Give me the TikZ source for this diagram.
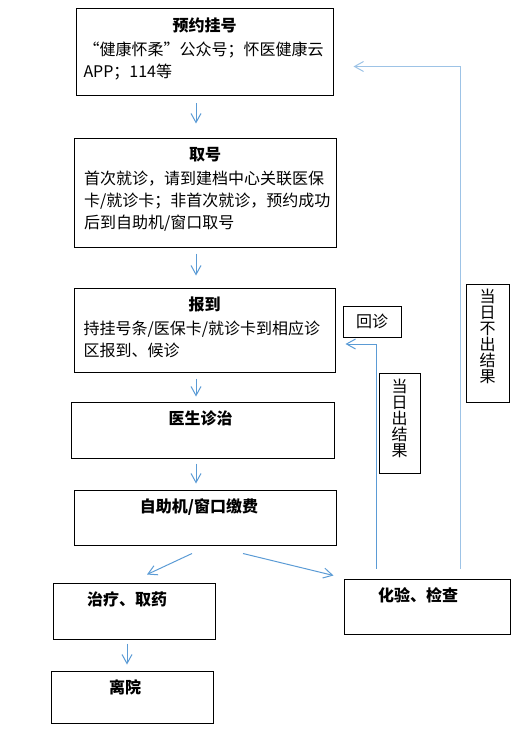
\documentclass[tikz,border=0pt]{standalone}
\usepackage{fontspec}
\setmainfont{Noto Sans CJK SC}
\usepackage{xcolor}
\definecolor{arrowblue}{RGB}{91,155,213}
\definecolor{paleblue}{RGB}{157,195,230}
\usetikzlibrary{arrows.meta,calc}
\newdimen\upx \upx=0.75pt
\newcommand{\steptitle}[1]{{\centering\textbf{#1}\par}\vspace{1.5pt}\raggedright}

\tikzset{
  stepbox/.style={draw=black, line width=0.75pt, inner sep=0pt},
  boxtext/.style={anchor=north, inner sep=0pt, yshift=-9\upx, text width=242\upx,
    font=\fontsize{12pt}{16.5pt}\selectfont},
  coltext/.style={anchor=north, inner sep=0pt, yshift=-5\upx, align=center,
    font=\fontsize{12pt}{12pt}\selectfont},
  flow/.style={arrowblue, line width=0.75pt, -{Straight Barb[length=6.75pt,width=7.5pt]}},
}

\begin{document}
\begin{tikzpicture}[x=0.75pt, y=-0.75pt]
  \useasboundingbox (0,0) rectangle (530,734);

  % main column
  \node[stepbox, minimum width=257\upx, minimum height=87\upx,
    label={[boxtext]north:{\steptitle{预约挂号}
      “健康怀柔”公众号；怀医健康云\\APP；114等}}] (yuyue) at (204.5,52.5) {};
  \node[stepbox, minimum width=262\upx, minimum height=108\upx,
    label={[boxtext]north:{\steptitle{取号}
      首次就诊，请到建档中心关联医保\\卡/就诊卡；非首次就诊，预约成功\\后到自助机/窗口取号}}] (quhao) at (205,193) {};
  \node[stepbox, minimum width=261\upx, minimum height=84\upx,
    label={[boxtext]north:{\steptitle{报到}
      持挂号条/医保卡/就诊卡到相应诊\\区报到、候诊}}] (baodao) at (204.5,330) {};
  \node[stepbox, minimum width=263\upx, minimum height=56\upx,
    label={[boxtext, xshift=-2\upx]north:{\steptitle{医生诊治}}}] (zhenzhi) at (202.5,430) {};
  \node[stepbox, minimum width=262\upx, minimum height=55\upx,
    label={[boxtext, xshift=-6\upx]north:{\steptitle{自助机/窗口缴费}}}] (jiaofei) at (205,517.5) {};

  % lower boxes
  \node[stepbox, minimum width=162\upx, minimum height=56\upx,
    label={[boxtext, xshift=-7\upx]north:{\steptitle{治疗、取药}}}] (zhiliao) at (134,611) {};
  \node[stepbox, minimum width=162\upx, minimum height=52\upx,
    label={[boxtext, xshift=-7\upx]north:{\steptitle{离院}}}] (liyuan) at (132,697) {};
  \node[stepbox, minimum width=166\upx, minimum height=55\upx,
    label={[boxtext, xshift=-9\upx]north:{\steptitle{化验、检查}}}] (huayan) at (427,606.5) {};

  % side labels
  \node[stepbox, minimum width=58\upx, minimum height=31\upx,
    font=\fontsize{12pt}{12pt}\selectfont] (huizhen) at (372,321.5) {回诊};
  \node[stepbox, minimum width=41\upx, minimum height=100\upx,
    label={[coltext, yshift=-1\upx]north:{当\\日\\出\\结\\果}}] (chujieguo) at (399.5,423) {};
  \node[stepbox, minimum width=43\upx, minimum height=118\upx,
    label={[coltext]north:{当\\日\\不\\出\\结\\果}}] (bujieguo) at (487.5,343) {};

  % connectors
  \coordinate (axis) at (196,0);
  \draw[flow] ($(yuyue.south -| axis)+(0,7)$) -- ($(quhao.north -| axis)+(0,-15)$);
  \draw[flow] ($(quhao.south -| axis)+(0,6)$) -- ($(baodao.north -| axis)+(0,-12)$);
  \draw[flow] ($(baodao.south -| axis)+(0,6)$) -- ($(zhenzhi.north -| axis)+(0,-5)$);
  \draw[flow] ($(zhenzhi.south -| axis)+(0,5)$) -- ($(jiaofei.north -| axis)+(0,-6)$);
  \draw[flow] ($(jiaofei.south)+(-13,8)$) -- ($(zhiliao.north)+(13,-8)$);
  \draw[flow] ($(jiaofei.south)+(38,8)$) -- ($(huayan.north west)+(-10,-3)$);
  \draw[flow] ($(zhiliao.south)+(-7,4)$) -- ($(liyuan.north)+(-5,-6)$);

  % return routes
  \coordinate (backa) at (376,344);
  \draw[flow] ($(huayan.north -| backa)+(0,-10)$) -- (backa) -- ($(baodao.east |- backa)+(10,0)$);
  \coordinate (backb) at (460,66.5);
  \draw[flow, paleblue] ($(huayan.north -| backb)+(0,-10)$) -- (backb) -- ($(yuyue.east |- backb)+(20,0)$);
\end{tikzpicture}
\end{document}
